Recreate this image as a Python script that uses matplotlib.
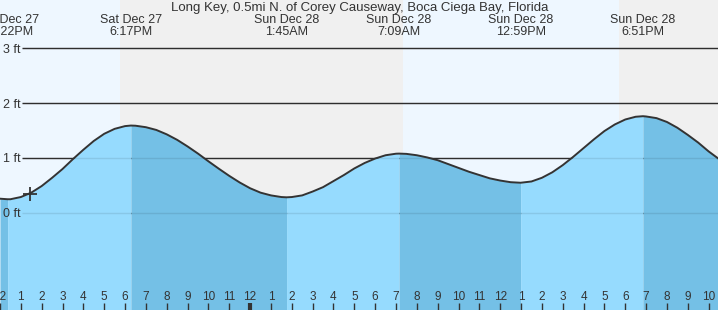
import numpy as np
import matplotlib
matplotlib.use("Agg")
import matplotlib.pyplot as plt
import matplotlib.transforms as mtransforms

# horas contadas desde el mediodia del sab 27 de dic
horas = [0, 0.367, 0.5, 1, 1.5, 2, 2.5, 3, 3.5, 4, 4.5, 5, 5.5, 6, 6.283,
         6.5, 7, 7.5, 8, 8.5, 9, 9.5, 10, 10.5, 11, 11.5, 12, 12.5, 13, 13.5,
         13.75, 14, 14.5, 15, 15.5, 16, 16.5, 17, 17.5, 18, 18.5, 19, 19.15,
         19.5, 20, 20.5, 21, 21.5, 22, 22.5, 23, 23.5, 24, 24.5, 24.98, 25.5,
         26, 26.5, 27, 27.5, 28, 28.5, 29, 29.5, 30, 30.5, 30.85, 31, 31.5,
         32, 32.5, 33, 33.5, 34, 34.5]
alturas = [0.26, 0.25, 0.25, 0.29, 0.37, 0.49, 0.64, 0.80, 0.98, 1.15, 1.31,
           1.44, 1.53, 1.58, 1.59, 1.587, 1.56, 1.51, 1.43, 1.33, 1.21, 1.08,
           0.94, 0.805, 0.675, 0.555, 0.45, 0.37, 0.32, 0.29, 0.285, 0.29,
           0.32, 0.39, 0.47, 0.58, 0.69, 0.81, 0.91, 0.99, 1.05, 1.078, 1.08,
           1.075, 1.05, 1.01, 0.96, 0.89, 0.82, 0.75, 0.69, 0.63, 0.59, 0.56,
           0.55, 0.573, 0.64, 0.74, 0.87, 1.02, 1.18, 1.34, 1.49, 1.61, 1.70,
           1.75, 1.76, 1.755, 1.725, 1.655, 1.55, 1.42, 1.28, 1.12, 0.98]

# pleamares y bajamares
mareas_horas = [0.367, 6.283, 13.75, 19.15, 24.98, 30.85]
mareas_dia = ["Sat Dec 27", "Sat Dec 27", "Sun Dec 28", "Sun Dec 28",
              "Sun Dec 28", "Sun Dec 28"]
mareas_hora = ["12:22PM", "6:17PM", "1:45AM", "7:09AM", "12:59PM", "6:51PM"]

# dia / noche
puesta_sol_1 = 5.75
salida_sol = 19.33
puesta_sol_2 = 29.72

ahora_hora = 1.42
ahora_altura = 0.34

niveles = [0, 1, 2, 3]
niveles_etiquetas = ["0 ft", "1 ft", "2 ft", "3 ft"]
horas_ticks = list(range(0, 35))
horas_etiquetas = ["12", "1", "2", "3", "4", "5", "6", "7", "8", "9", "10", "11",
                   "12", "1", "2", "3", "4", "5", "6", "7", "8", "9", "10", "11",
                   "12", "1", "2", "3", "4", "5", "6", "7", "8", "9", "10"]
titulo = "Long Key, 0.5mi N. of Corey Causeway, Boca Ciega Bay, Florida"

COLOR_DIA = "#eef7ff"
COLOR_NOCHE = "#f0f0f0"
COLOR_SUBE = "#96dbfe"
COLOR_BAJA = "#74c0e6"
COLOR_TEXTO = "#333333"

plt.rcParams["font.family"] = ["Liberation Sans", "DejaVu Sans"]

fig = plt.figure(figsize=(7.18, 3.10), dpi=100)
ax = fig.add_axes([0, 0, 1, 1])
X_MIN, X_MAX = 0, 34.45
Y_MIN, Y_MAX = -1.764, 3.873
ax.set_xlim(X_MIN, X_MAX)
ax.set_ylim(Y_MIN, Y_MAX)
for s in ax.spines.values():
    s.set_visible(False)

# fondo dia / noche
ax.axvspan(X_MIN, puesta_sol_1, color=COLOR_DIA, lw=0, zorder=0)
ax.axvspan(puesta_sol_1, salida_sol, color=COLOR_NOCHE, lw=0, zorder=0)
ax.axvspan(salida_sol, puesta_sol_2, color=COLOR_DIA, lw=0, zorder=0)
ax.axvspan(puesta_sol_2, X_MAX + 1, color=COLOR_NOCHE, lw=0, zorder=0)

# lineas de nivel
inicio_linea = 1.04
ax.hlines(niveles, inicio_linea, X_MAX + 1, color=COLOR_TEXTO, lw=1.0, zorder=1)

# relleno por tramos: sube / baja
t = np.array(horas)
h = np.array(alturas)
limites = [horas[0]] + mareas_horas + [horas[-1]]
for i in range(len(limites) - 1):
    m = (t >= limites[i]) & (t <= limites[i + 1])
    color = COLOR_BAJA if i % 2 == 0 else COLOR_SUBE
    ax.fill_between(t[m], h[m], Y_MIN, color=color, lw=0, zorder=2)

# lineas tenues por encima del relleno
ax.hlines(niveles, inicio_linea, X_MAX + 1, color="#000000", alpha=0.09, lw=1.0, zorder=3)

ax.plot(t, h, color=COLOR_TEXTO, lw=1.4, zorder=4, solid_joinstyle="round")
ax.plot([ahora_hora], [ahora_altura], marker="+", ms=10, mew=1.3,
        color=COLOR_TEXTO, zorder=5)

# etiquetas eje y
ax.set_yticks(niveles)
ax.set_yticklabels(niveles_etiquetas)
ax.tick_params(axis="y", length=0, pad=-14.6, labelsize=9, labelcolor=COLOR_TEXTO)
for lbl in ax.get_yticklabels():
    lbl.set_horizontalalignment("right")

# eje x con las horas
ax.set_xticks(horas_ticks)
ax.set_xticklabels(horas_etiquetas)
ax.tick_params(axis="x", direction="in", length=5.2, width=1.0, color=COLOR_TEXTO,
               pad=-13.6, labelsize=8.5, labelcolor=COLOR_TEXTO)
ax.xaxis.get_major_ticks()[12].tick1line.set_markeredgewidth(3)
ax.xaxis.set_zorder(6)
ax.yaxis.set_zorder(6)

# textos superiores
trans = mtransforms.blended_transform_factory(ax.transData, ax.transAxes)
ax.text(359.5 / 718, 1 - 8 / 310, titulo, transform=ax.transAxes, ha="center",
        va="center", fontsize=9.5, color=COLOR_TEXTO)
for x, dia, hora in zip(mareas_horas, mareas_dia, mareas_hora):
    ax.text(x, 1 - 20 / 310, dia, transform=trans, ha="center", va="center",
            fontsize=9, color=COLOR_TEXTO)
    ax.text(x, 1 - 32 / 310, hora, transform=trans, ha="center", va="center",
            fontsize=9, color=COLOR_TEXTO)

fig.savefig("out.png", dpi=100)
